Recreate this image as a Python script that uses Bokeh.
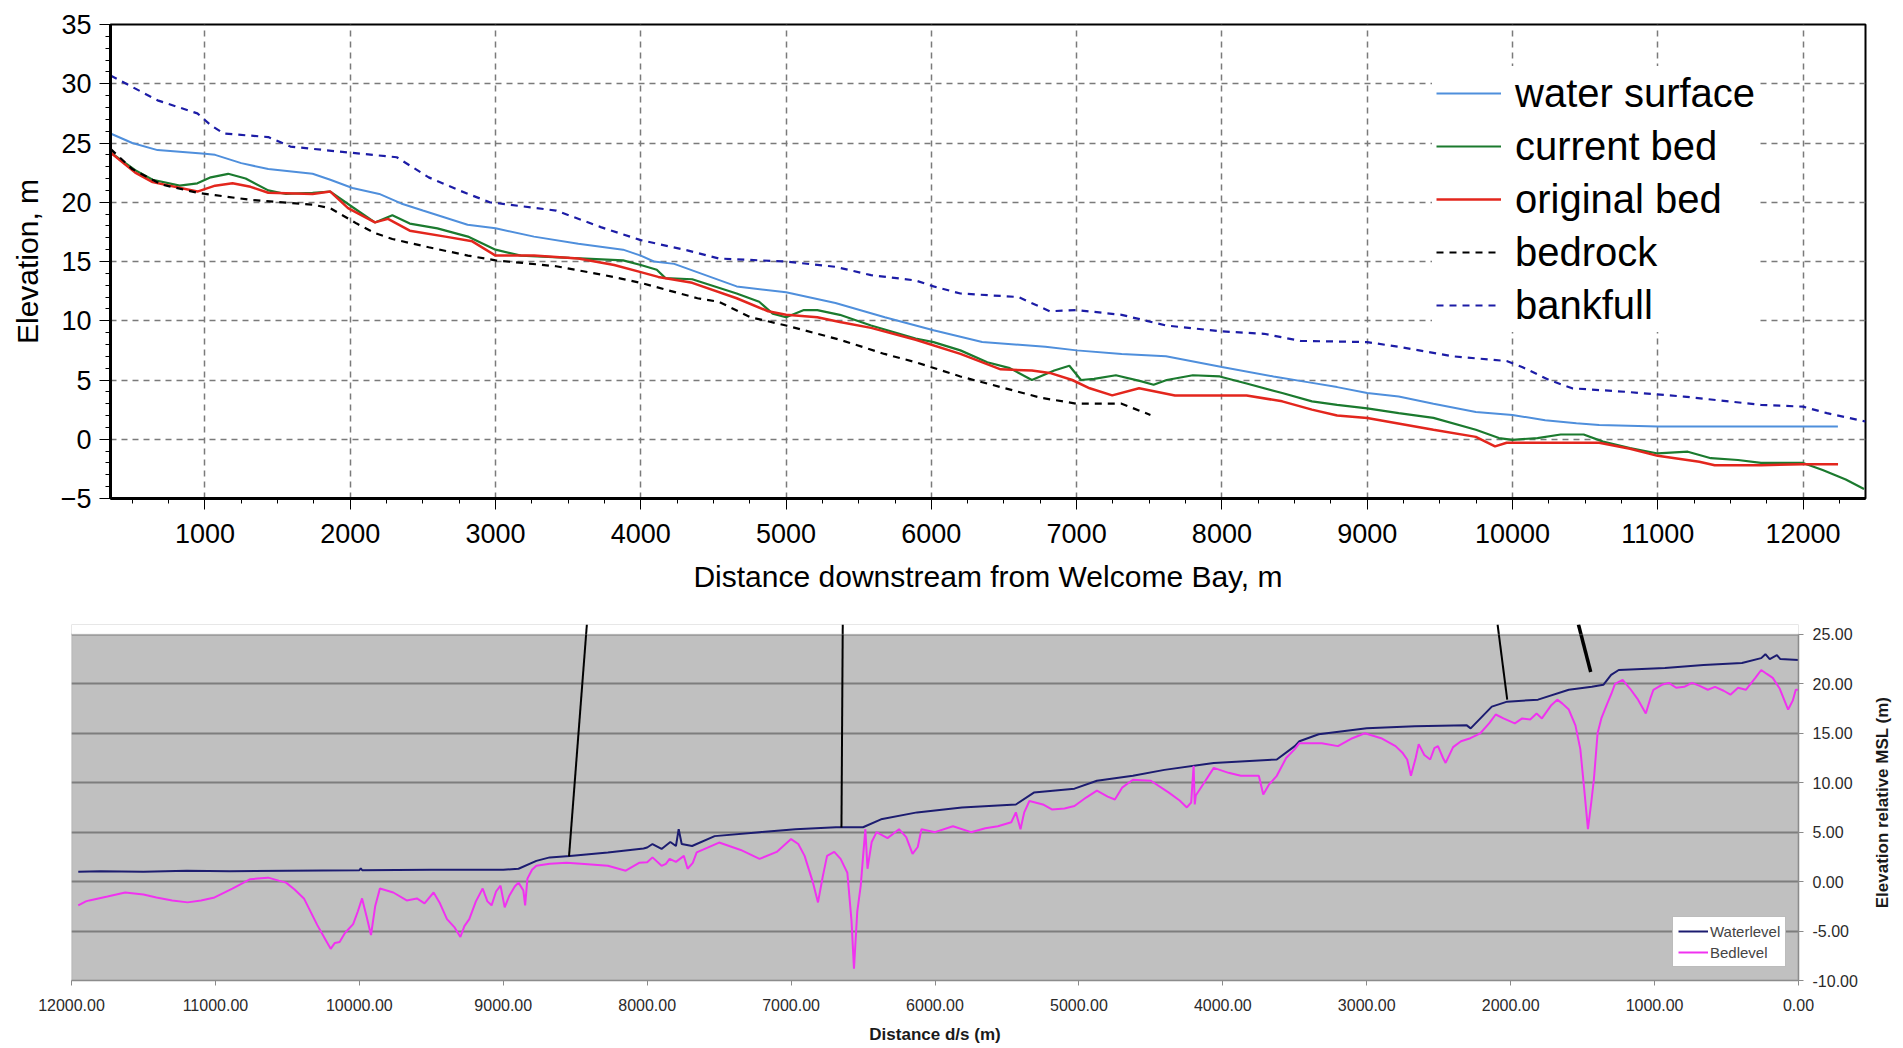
from bokeh.plotting import figure
from bokeh.layouts import row
from bokeh.models import (Range1d, SingleIntervalTicker, NumeralTickFormatter, Legend, LegendItem,
                          BoxAnnotation, FixedTicker)
from bokeh.embed import file_html
from bokeh.resources import INLINE

# ---------------- Top panel data (distance downstream from Welcome Bay, m ; elevation, m)
ws_x = [350, 500, 674, 1000, 1070, 1250, 1436, 1741, 1863, 2015, 2200, 2350, 2500, 2808, 3000, 3265, 3570, 3878,
        4000, 4090, 4230, 4660, 5000, 5340, 5680, 6015, 6350, 6785, 7000, 7310, 7615, 8000, 8355, 8600, 8793,
        9000, 9217, 9456, 9748, 10000, 10225, 10440, 10597, 11000, 12000, 12240]
ws_y = [25.8, 25.0, 24.4, 24.1, 24.0, 23.3, 22.8, 22.4, 21.9, 21.2, 20.7, 19.9, 19.3, 18.1, 17.8, 17.1, 16.5, 16.0,
        15.5, 15.0, 14.8, 12.9, 12.4, 11.5, 10.3, 9.2, 8.2, 7.8, 7.5, 7.2, 7.0, 6.1, 5.3, 4.8, 4.4,
        3.9, 3.6, 3.0, 2.3, 2.05, 1.6, 1.35, 1.2, 1.07, 1.07, 1.07]

cb_x = [350, 520, 640, 826, 948, 1040, 1160, 1280, 1436, 1558, 1741, 1863, 2015, 2170, 2290, 2410, 2600, 2810,
        3000, 3175, 3510, 3878, 4000, 4110, 4170, 4354, 4660, 4815, 4908, 5000, 5123, 5215, 5370, 5585, 5892,
        6015, 6200, 6385, 6540, 6692, 6846, 6950, 7030, 7120, 7270, 7440, 7530, 7620, 7800, 7985, 8170, 8415,
        8620, 8793, 9000, 9217, 9456, 9748, 9907, 10000, 10172, 10332, 10490, 10623, 10809, 11000, 11207,
        11366, 11552, 11711, 12000, 12135, 12294, 12420]
cb_y = [24.2, 22.7, 21.9, 21.4, 21.6, 22.1, 22.4, 22.0, 21.0, 20.7, 20.8, 20.9, 19.6, 18.3, 18.9, 18.2, 17.8, 17.1,
        16.0, 15.5, 15.3, 15.1, 14.7, 14.3, 13.6, 13.5, 12.3, 11.6, 10.6, 10.3, 10.9, 10.9, 10.5, 9.6, 8.5,
        8.2, 7.5, 6.5, 6.0, 5.0, 5.8, 6.2, 5.0, 5.1, 5.4, 4.9, 4.6, 5.0, 5.4, 5.3, 4.7, 3.9,
        3.2, 2.9, 2.6, 2.2, 1.8, 0.8, 0.1, -0.05, 0.1, 0.4, 0.4, -0.2, -0.75, -1.2, -1.05,
        -1.6, -1.75, -2.0, -2.0, -2.6, -3.4, -4.2]

ob_x = [350, 520, 640, 948, 1070, 1190, 1314, 1436, 1741, 1863, 1985, 2170, 2260, 2410, 2655, 2840, 3000, 3265,
        3570, 3817, 4000, 4120, 4354, 4660, 4877, 5000, 5215, 5370, 5585, 5892, 6200, 6477, 6692, 6815, 6970,
        7090, 7245, 7430, 7677, 8170, 8415, 8620, 8793, 9000, 9456, 9748, 9880, 9960, 10119, 10597, 10809,
        11000, 11286, 11392, 11711, 12000, 12241]
ob_y = [24.2, 22.5, 21.7, 20.9, 21.4, 21.6, 21.3, 20.8, 20.7, 20.9, 19.5, 18.3, 18.6, 17.6, 17.1, 16.7, 15.5, 15.5,
        15.25, 14.7, 14.1, 13.7, 13.2, 11.9, 10.8, 10.5, 10.3, 9.9, 9.4, 8.4, 7.2, 5.9, 5.8, 5.6, 5.0,
        4.3, 3.7, 4.3, 3.7, 3.7, 3.2, 2.5, 2.0, 1.8, 0.8, 0.2, -0.6, -0.3, -0.3, -0.3, -0.8,
        -1.4, -1.9, -2.2, -2.2, -2.1, -2.1]

br_x = [350, 500, 700, 948, 1070, 1314, 1741, 1863, 2045, 2170, 2290, 2540, 2810, 3000, 3417, 3750, 4000, 4180,
        4390, 4538, 4754, 5000, 5370, 5677, 5892, 6200, 6477, 6754, 7000, 7310, 7508]
br_y = [24.5, 22.8, 21.5, 20.8, 20.6, 20.2, 19.8, 19.5, 18.2, 17.4, 16.9, 16.2, 15.5, 15.1, 14.6, 13.85, 13.2, 12.6,
        11.9, 11.6, 10.3, 9.6, 8.4, 7.2, 6.5, 5.3, 4.4, 3.5, 3.0, 3.0, 2.05]

bf_x = [350, 674, 948, 1040, 1130, 1436, 1588, 1985, 2320, 2540, 2750, 2960, 3417, 3725, 4000, 4300, 4538, 5000,
        5340, 5585, 5892, 6015, 6200, 6600, 6815, 7000, 7310, 7615, 8000, 8290, 8540, 9000, 9217, 9589, 9960,
        10066, 10252, 10411, 10783, 11180, 11711, 12000, 12165, 12430]
bf_y = [30.7, 28.6, 27.5, 26.5, 25.8, 25.5, 24.7, 24.2, 23.8, 22.1, 21.0, 20.0, 19.3, 17.9, 16.8, 16.0, 15.25, 15.0,
        14.55, 13.85, 13.4, 12.9, 12.3, 12.0, 10.8, 10.9, 10.5, 9.6, 9.1, 8.9, 8.3, 8.2, 7.8, 7.0, 6.6,
        6.1, 5.0, 4.3, 4.0, 3.6, 2.9, 2.75, 2.2, 1.5]

top_labels = ["water surface", "current bed", "original bed", "bedrock", "bankfull"]

# ---------------- Bottom panel data (distance d/s, m ; elevation relative MSL, m)
wl_x = [11953, 11800, 11500, 11200, 10900, 10500, 10000, 9990, 9980, 9500, 9000, 8894, 8770, 8677, 8537, 8273,
        8025, 8000, 7963, 7900, 7839, 7800, 7781, 7760, 7688, 7531, 7219, 6969, 6688, 6500, 6375, 6125, 5813,
        5438, 5313, 5031, 4875, 4625, 4406, 4063, 3625, 3500, 3468, 3334, 3000, 2666, 2305, 2278, 2131, 2024,
        1810, 1596, 1436, 1356, 1302, 1249, 928, 660, 393, 259, 230, 200, 150, 126, 0]
wl_y = [1.0, 1.05, 1.0, 1.1, 1.05, 1.1, 1.15, 1.35, 1.15, 1.2, 1.2, 1.3, 2.1, 2.45, 2.6, 2.95,
        3.35, 3.45, 3.8, 3.3, 4.0, 3.6, 5.3, 3.8, 3.6, 4.6, 5.0, 5.3, 5.5, 5.5, 6.3, 7.0, 7.5,
        7.8, 9.0, 9.4, 10.2, 10.7, 11.3, 12.0, 12.35, 13.7, 14.2, 14.9, 15.5, 15.7, 15.8, 15.5, 17.7, 18.2,
        18.4, 19.4, 19.7, 19.9, 20.9, 21.4, 21.6, 21.9, 22.1, 22.6, 23.0, 22.5, 22.9, 22.5, 22.4]

bl_x = [11953, 11900, 11876, 11750, 11627, 11500, 11410, 11300, 11193, 11100, 11006, 10882, 10758, 10634, 10560,
        10509, 10450, 10385, 10292, 10230, 10199, 10170, 10137, 10100, 10043, 10010, 9981, 9950, 9919, 9890,
        9857, 9764, 9671, 9600, 9547, 9484, 9440, 9391, 9340, 9298, 9270, 9236, 9190, 9143, 9110, 9081, 9050,
        9019, 8990, 8957, 8920, 8894, 8860, 8848, 8832, 8800, 8770, 8677, 8560, 8460, 8273, 8149, 8056, 8000,
        7963, 7900, 7870, 7844, 7800, 7745, 7719, 7683, 7656, 7500, 7350, 7219, 7100, 7000, 6950, 6906, 6850,
        6813, 6780, 6750, 6700, 6656, 6609, 6580, 6563, 6540, 6516, 6500, 6484, 6469, 6440, 6406, 6330, 6250,
        6200, 6156, 6120, 6094, 6000, 5875, 5750, 5650, 5563, 5470, 5438, 5406, 5380, 5344, 5250, 5188, 5100,
        5031, 4950, 4875, 4800, 4750, 4700, 4625, 4500, 4375, 4300, 4250, 4220, 4203, 4195, 4188, 4130, 4063,
        3960, 3875, 3750, 3719, 3680, 3625, 3560, 3500, 3468, 3313, 3200, 3100, 3013, 2900, 2800, 2750, 2719,
        2693, 2660, 2639, 2600, 2559, 2530, 2505, 2470, 2452, 2400, 2345, 2280, 2211, 2150, 2104, 2050, 1971,
        1920, 1864, 1820, 1783, 1720, 1676, 1640, 1596, 1550, 1516, 1490, 1463, 1440, 1422, 1396, 1370, 1329,
        1300, 1275, 1222, 1170, 1115, 1061, 1030, 1008, 950, 901, 850, 794, 740, 687, 630, 580, 520, 473, 420,
        366, 300, 259, 220, 179, 130, 72, 40, 19, 0]
bl_y = [-2.4, -2.0, -1.9, -1.5, -1.1, -1.3, -1.6, -1.9, -2.1, -1.9, -1.6, -0.7, 0.25, 0.4, 0.1,
        -0.1, -0.8, -1.7, -4.4, -6.0, -6.8, -6.2, -6.1, -5.2, -4.3, -3.0, -1.7, -3.5, -5.4, -2.5,
        -0.7, -1.1, -1.9, -1.7, -2.2, -1.1, -2.2, -3.8, -4.6, -5.6, -4.5, -3.8, -2.0, -0.7, -2.0, -2.4, -1.0,
        -0.4, -2.6, -1.4, -0.5, -0.1, -0.9, -2.4, 0.3, 1.2, 1.6, 1.8, 1.9, 1.8, 1.6, 1.1, 1.9, 1.95,
        2.45, 1.6, 1.8, 2.3, 2.0, 2.6, 1.3, 1.9, 2.95, 3.95, 3.2, 2.3, 3.0, 4.3, 3.8, 2.6, 0.0,
        -2.1, 0.5, 2.6, 3.0, 2.3, 0.9, -4.0, -8.8, -3.0, -0.4, 2.5, 5.3, 1.3, 4.0, 5.0, 4.4, 5.3,
        4.5, 2.8, 3.5, 5.3, 5.0, 5.6, 5.0, 5.4, 5.6, 6.0, 7.0, 5.3, 7.0, 8.15, 7.8, 7.3, 7.4,
        7.65, 8.5, 9.2, 8.6, 8.3, 9.5, 10.3, 10.2, 9.0, 8.2, 7.5, 8.0, 11.7, 7.8, 8.7, 10.0, 11.5,
        11.0, 10.7, 10.7, 8.8, 9.8, 10.7, 12.5, 13.4, 14.0, 14.0, 13.7, 14.5, 15.0, 14.5, 13.7, 13.0, 12.35,
        10.7, 12.5, 13.9, 12.8, 12.35, 13.5, 13.7, 12.5, 12.0, 13.6, 14.2, 14.5, 15.0, 16.0, 16.9, 16.5, 16.0,
        16.5, 16.4, 17.0, 16.5, 17.8, 18.4, 18.0, 17.4, 15.8, 13.4, 9.5, 5.3, 8.0, 10.3, 15.0, 16.5, 18.0,
        19.0, 20.0, 20.4, 19.5, 18.4, 17.0, 18.5, 19.4, 19.9, 20.1, 19.6, 19.7, 20.1, 19.8, 19.4, 19.7, 19.3,
        18.9, 19.6, 19.4, 20.6, 21.4, 21.0, 20.6, 19.5, 17.4, 18.3, 19.4, 19.4]

# connector lines drawn between the two panels (x0, y0) -> (x1, y1), bottom-panel data units
con_x0 = [8419, 6641, 2091, 1529]
con_y0 = [26.0, 26.0, 26.0, 26.0]
con_x1 = [8543, 6650, 2024, 1444]
con_y1 = [2.55, 5.47, 18.4, 21.2]

bottom_labels = ["Waterlevel", "Bedlevel"]

FONT = "Liberation Sans"

# ================= TOP FIGURE =================
H1 = 606
p1 = figure(width=1903, height=H1, output_backend="svg", toolbar_location=None,
            x_range=Range1d(350, 12430), y_range=Range1d(-5, 35),
            min_border_left=110, min_border_right=38, min_border_top=24, min_border_bottom=H1 - 498)
p1.background_fill_color = "white"
p1.border_fill_color = "white"
p1.outline_line_color = "black"
p1.outline_line_width = 2

p1.xaxis.ticker = SingleIntervalTicker(interval=1000, num_minor_ticks=4)
p1.yaxis.ticker = SingleIntervalTicker(interval=5, num_minor_ticks=5)
p1.xaxis.formatter = NumeralTickFormatter(format="0")
for ax in (p1.xaxis[0], p1.yaxis[0]):
    ax.axis_line_color = "black"
    ax.axis_line_width = 3
    ax.major_tick_line_color = "black"
    ax.minor_tick_line_color = "black"
    ax.major_tick_out = 11
    ax.major_tick_in = 0
    ax.minor_tick_out = 5
    ax.minor_tick_in = 0
    ax.major_label_text_font = FONT
    ax.major_label_text_font_size = "27px"
    ax.major_label_text_color = "black"
    ax.axis_label_text_font = FONT
    ax.axis_label_text_font_size = "30px"
    ax.axis_label_text_font_style = "normal"
    ax.axis_label_text_color = "black"
p1.xaxis.axis_label = "Distance downstream from Welcome Bay, m"
p1.yaxis.axis_label = "Elevation, m"
p1.xaxis.major_label_standoff = 14
p1.xaxis.axis_label_standoff = 14
p1.yaxis.major_label_standoff = 8
p1.yaxis.axis_label_standoff = 14

for g in (p1.xgrid[0], p1.ygrid[0]):
    g.grid_line_color = "#7a7a7a"
    g.grid_line_dash = "6 5"
    g.grid_line_width = 1.5

r_ws = p1.line(ws_x, ws_y, line_color="#4f8fdc", line_width=2)
r_cb = p1.line(cb_x, cb_y, line_color="#1b7a2e", line_width=2.2)
r_ob = p1.line(ob_x, ob_y, line_color="#e3261d", line_width=2.5)
r_br = p1.line(br_x, br_y, line_color="black", line_width=2.2, line_dash="7 6")
r_bf = p1.line(bf_x, bf_y, line_color="#1c1ca6", line_width=2.2, line_dash="7 6")

leg1 = Legend(items=[LegendItem(label=l, renderers=[r]) for l, r in
                     zip(top_labels, [r_ws, r_cb, r_ob, r_br, r_bf])],
              location=(1322, 166), label_text_font=FONT, label_text_font_size="40px",
              label_text_color="black", glyph_width=65, glyph_height=46, label_height=46,
              spacing=7, padding=4, margin=0, label_standoff=14,
              border_line_alpha=0, background_fill_color="white", background_fill_alpha=1)
p1.add_layout(leg1)

# ================= BOTTOM FIGURE =================
H2 = 442
W3 = 41                      # narrow strip carrying the right-hand axis title
W2 = 1903 - W3
FRAME_L, FRAME_R = 71, 1798
BT, BB = 624 - H1, H2 - (980 - H1)
p2 = figure(width=W2, height=H2, output_backend="svg", toolbar_location=None,
            x_range=Range1d(12000, 0), y_range=Range1d(-10, 26.0), y_axis_location="right",
            min_border_left=FRAME_L, min_border_right=W2 - FRAME_R, min_border_top=BT,
            min_border_bottom=BB)
p2.background_fill_color = "#c0c0c0"
p2.border_fill_color = "white"
p2.outline_line_color = None
p2.add_layout(BoxAnnotation(bottom=25, fill_color="white", fill_alpha=1, line_alpha=0, level="underlay"))
p2.add_layout(BoxAnnotation(bottom=-10, top=25, fill_alpha=0, line_color="#9a9a9a", line_width=1.5))

p2.xaxis.ticker = SingleIntervalTicker(interval=1000, num_minor_ticks=0)
p2.yaxis.ticker = SingleIntervalTicker(interval=5, num_minor_ticks=0)
p2.xaxis.formatter = NumeralTickFormatter(format="0.00")
p2.yaxis.formatter = NumeralTickFormatter(format="0.00")
p2.yaxis.bounds = (-10, 25)
for ax in (p2.xaxis[0], p2.yaxis[0]):
    ax.axis_line_color = "#8a8a8a"
    ax.axis_line_width = 1.5
    ax.major_tick_line_color = "#8a8a8a"
    ax.major_tick_out = 5
    ax.major_tick_in = 0
    ax.minor_tick_line_color = None
    ax.major_label_text_font = FONT
    ax.major_label_text_font_size = "16px"
    ax.major_label_text_color = "#2a2a2a"
    ax.axis_label_text_font = FONT
    ax.axis_label_text_font_size = "17px"
    ax.axis_label_text_font_style = "bold"
    ax.axis_label_text_color = "#1a1a1a"
p2.xaxis.axis_label = "Distance d/s (m)"
p2.xaxis.major_label_standoff = 13
p2.xaxis.axis_label_standoff = 11
p2.yaxis.major_label_standoff = 9

p2.xgrid.grid_line_color = None
p2.ygrid.grid_line_color = "#7d7d7d"
p2.ygrid.grid_line_width = 2

r_wl = p2.line(wl_x, wl_y, line_color="#1c1c70", line_width=2)
r_bl = p2.line(bl_x, bl_y, line_color="#f032f0", line_width=2)
p2.segment(x0=con_x0, y0=con_y0, x1=con_x1, y1=con_y1, line_color="black", line_width=[2, 2, 2, 3.5])

leg2 = Legend(items=[LegendItem(label=l, renderers=[r]) for l, r in zip(bottom_labels, [r_wl, r_bl])],
              location=(1601, 13), label_text_font=FONT, label_text_font_size="15px",
              label_text_color="#444444", glyph_width=30, glyph_height=18, label_height=18,
              spacing=3, padding=5, margin=0, label_standoff=2,
              border_line_color="#7a7a7a", border_line_width=1, background_fill_color="white",
              background_fill_alpha=1)
p2.add_layout(leg2)

# strip whose left axis holds "Elevation relative MSL (m)" (reads bottom-to-top)
p3 = figure(width=W3, height=H2, output_backend="svg", toolbar_location=None,
            x_range=Range1d(0, 1), y_range=Range1d(0, 1), x_axis_location=None,
            min_border_left=W3 - 3, min_border_right=1, min_border_top=BT, min_border_bottom=BB)
p3.outline_line_color = None
p3.background_fill_color = "white"
p3.border_fill_color = "white"
p3.grid.grid_line_color = None
p3.yaxis.ticker = FixedTicker(ticks=[])
p3.yaxis.axis_line_color = None
p3.yaxis.major_tick_out = 0
p3.yaxis.minor_tick_out = 0
p3.yaxis.major_label_text_font_size = "0px"
p3.yaxis.axis_label = "Elevation relative MSL (m)"
p3.yaxis.axis_label_standoff = 9
p3.yaxis.axis_label_text_font = FONT
p3.yaxis.axis_label_text_font_size = "17px"
p3.yaxis.axis_label_text_font_style = "bold"
p3.yaxis.axis_label_text_color = "#1a1a1a"

bottom = row(p2, p3, spacing=0)

open("out.html", "w").write(file_html([p1, bottom], INLINE))
